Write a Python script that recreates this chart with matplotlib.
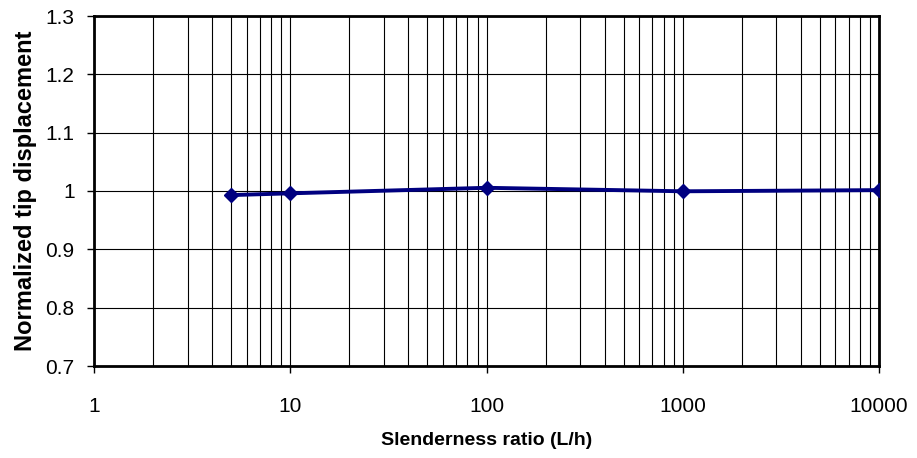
import matplotlib
matplotlib.use("Agg")
import matplotlib.pyplot as plt
from matplotlib.ticker import LogLocator, FixedLocator, NullFormatter, FixedFormatter

slenderness = [5, 10, 100, 1000, 10000]
normalized_disp = [0.993, 0.996, 1.0055, 0.9995, 1.0015]
x_tick_values = [1, 10, 100, 1000, 10000]
x_tick_labels = ["1", "10", "100", "1000", "10000"]
y_tick_values = [0.7, 0.8, 0.9, 1.0, 1.1, 1.2, 1.3]
y_tick_labels = ["0.7", "0.8", "0.9", "1", "1.1", "1.2", "1.3"]

plt.rcParams['font.family'] = ['Liberation Sans', 'DejaVu Sans']

fig = plt.figure(figsize=(9.17, 4.58), dpi=100)
ax = fig.add_axes([94/917, 1 - 366/458, (879 - 94)/917, (366 - 16)/458])

ax.set_xscale('log')
ax.set_xlim(1, 10000)
ax.set_ylim(0.7, 1.3)

ax.xaxis.set_major_locator(FixedLocator(x_tick_values))
ax.xaxis.set_major_formatter(FixedFormatter(x_tick_labels))
ax.xaxis.set_minor_locator(LogLocator(base=10, subs=range(2, 10), numticks=50))
ax.xaxis.set_minor_formatter(NullFormatter())
ax.yaxis.set_major_locator(FixedLocator(y_tick_values))
ax.yaxis.set_major_formatter(FixedFormatter(y_tick_labels))

ax.grid(True, which='major', axis='both', color='black', linewidth=0.8)
ax.grid(True, which='minor', axis='x', color='black', linewidth=0.8)
ax.set_axisbelow(True)

ax.plot(slenderness, normalized_disp, color='#000080', linewidth=2.8,
        marker='D', markersize=7, markerfacecolor='#000080',
        markeredgecolor='#000080', zorder=3)

for s in ax.spines.values():
    s.set_linewidth(2.0)
    s.set_color('black')

ax.tick_params(axis='both', which='major', direction='out', length=5,
               width=1, labelsize=15, colors='black')
ax.tick_params(axis='x', which='major', pad=17)
ax.tick_params(axis='y', which='major', pad=9)
ax.tick_params(axis='x', which='minor', length=0)

ax.set_xlabel("Slenderness ratio (L/h)", fontsize=14, fontweight='bold', labelpad=12)
ax.set_ylabel("Normalized tip displacement", fontsize=17, fontweight='bold', labelpad=6)

fig.savefig("out.png", dpi=100)
